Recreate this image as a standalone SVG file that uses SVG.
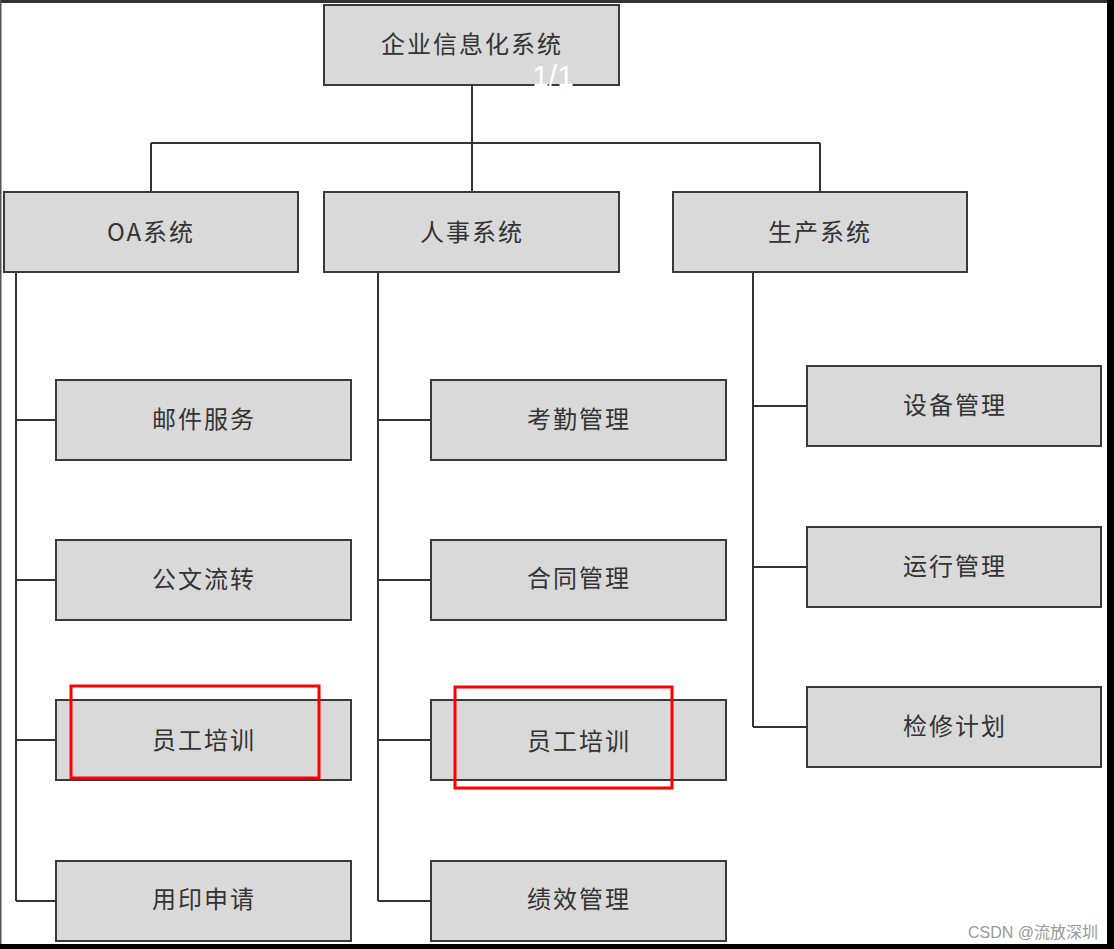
<svg xmlns="http://www.w3.org/2000/svg" width="1114" height="949" viewBox="0 0 1114 949">
<style>
.node rect{fill:#d9d9d9;stroke:#3a3a3a;stroke-width:2}
.node text{font-family:"Noto Sans CJK SC","Liberation Sans",sans-serif;font-size:24px;fill:#333;text-anchor:middle;dominant-baseline:central;letter-spacing:2px}
.conn{stroke:#333;stroke-width:2;fill:none}
.hl{fill:none;stroke:#f00;stroke-width:3}
</style>
<rect x="0" y="0" width="1114" height="949" fill="#fff"/>
<g id="connectors">
<path class="conn" d="M472 85V143M151 143H820M151 143V192M472 143V192M820 143V192"/>
<path class="conn" d="M16 272V901M16 420H56M16 580H56M16 740H56M16 901H56"/>
<path class="conn" d="M378 272V901M378 420H431M378 580H431M378 740H431M378 901H431"/>
<path class="conn" d="M753 272V727M753 406H807M753 567H807M753 727H807"/>
</g>
<g id="n-root" class="node"><rect x="324" y="5" width="295" height="80"/><text x="472" y="42">企业信息化系统</text></g>
<g id="n-oa" class="node"><rect x="4" y="192" width="294" height="80"/><text x="151" y="230">OA系统</text></g>
<g id="n-hr" class="node"><rect x="324" y="192" width="295" height="80"/><text x="472" y="230">人事系统</text></g>
<g id="n-prod" class="node"><rect x="673" y="192" width="294" height="80"/><text x="820" y="230">生产系统</text></g>
<g id="n-mail" class="node"><rect x="56" y="380" width="295" height="80"/><text x="204" y="417">邮件服务</text></g>
<g id="n-doc" class="node"><rect x="56" y="540" width="295" height="80"/><text x="204" y="577">公文流转</text></g>
<g id="n-train1" class="node"><rect x="56" y="700" width="295" height="80"/><text x="204" y="738">员工培训</text></g>
<g id="n-seal" class="node"><rect x="56" y="861" width="295" height="80"/><text x="204" y="897">用印申请</text></g>
<g id="n-attend" class="node"><rect x="431" y="380" width="295" height="80"/><text x="579" y="417">考勤管理</text></g>
<g id="n-contract" class="node"><rect x="431" y="540" width="295" height="80"/><text x="579" y="576">合同管理</text></g>
<g id="n-train2" class="node"><rect x="431" y="700" width="295" height="80"/><text x="579" y="739">员工培训</text></g>
<g id="n-perf" class="node"><rect x="431" y="861" width="295" height="80"/><text x="579" y="897">绩效管理</text></g>
<g id="n-equip" class="node"><rect x="807" y="366" width="294" height="80"/><text x="955" y="403">设备管理</text></g>
<g id="n-run" class="node"><rect x="807" y="527" width="294" height="80"/><text x="955" y="564">运行管理</text></g>
<g id="n-maint" class="node"><rect x="807" y="687" width="294" height="80"/><text x="955" y="724">检修计划</text></g>
<rect class="hl" x="71" y="686" width="248" height="92"/>
<rect class="hl" x="455" y="687" width="217" height="101"/>
<text x="553" y="86" font-family="Liberation Sans, sans-serif" font-size="30" fill="#fff" text-anchor="middle">1/1</text>
<text x="1098" y="938" font-family="'Liberation Sans','Noto Sans CJK SC',sans-serif" font-size="16" fill="#999" text-anchor="end">CSDN @流放深圳</text>
<rect x="0" y="0" width="1114" height="3" fill="#333"/>
<rect x="0" y="0" width="1.5" height="949" fill="#555"/>
<rect x="1107" y="0" width="7" height="949" fill="#000"/>
<rect x="0" y="944" width="1114" height="5" fill="#000"/>
</svg>
